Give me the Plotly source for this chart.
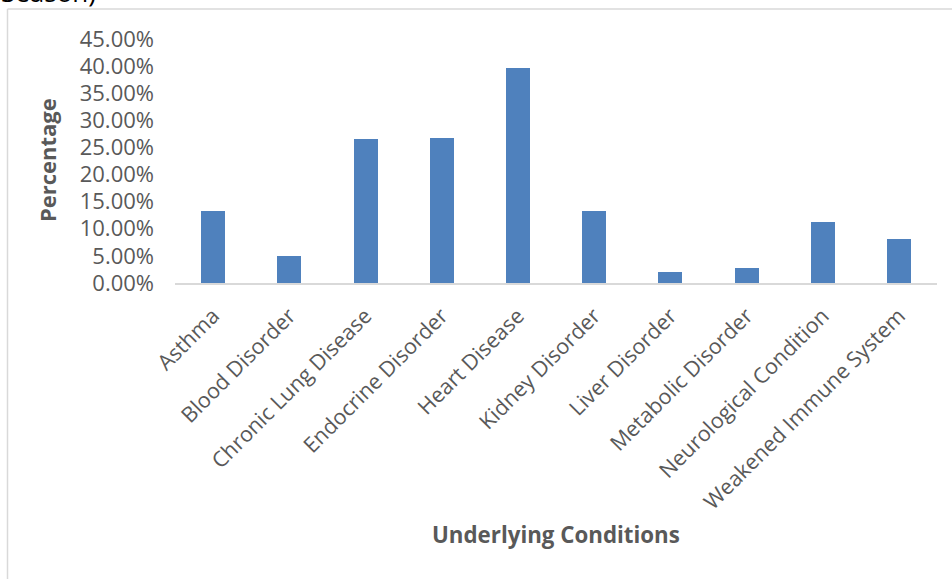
import plotly.graph_objects as go

# Share of cases by underlying condition
conditions = [
    "Asthma", "Blood Disorder", "Chronic Lung Disease", "Endocrine Disorder",
    "Heart Disease", "Kidney Disorder", "Liver Disorder", "Metabolic Disorder",
    "Neurological Condition", "Weakened Immune System",
]
percentages = [0.132, 0.049, 0.266, 0.267, 0.397, 0.133, 0.021, 0.027, 0.112, 0.082]
y_ticks = [0.0, 0.05, 0.10, 0.15, 0.20, 0.25, 0.30, 0.35, 0.40, 0.45]
y_tick_labels = ["0.00%", "5.00%", "10.00%", "15.00%", "20.00%", "25.00%",
                 "30.00%", "35.00%", "40.00%", "45.00%"]

FONT = "'Open Sans', sans-serif"
GREY = "#595959"

W, H = 952, 579
L, R, T, B = 175, 15, 39.4, 295.5
PW, PH = W - L - R, H - T - B


def px(x):
    return (x - L) / PW


def py(y):
    return (H - B - y) / PH


fig = go.Figure(
    go.Bar(
        x=conditions,
        y=percentages,
        marker=dict(color="#4f81bd", line=dict(width=0)),
        width=0.315,
    )
)

fig.update_layout(
    width=W,
    height=H,
    margin=dict(l=L, r=R, t=T, b=B, autoexpand=False),
    paper_bgcolor="white",
    plot_bgcolor="white",
    showlegend=False,
    font=dict(family=FONT, color=GREY),
    bargap=0,
)

fig.update_xaxes(
    tickangle=-45,
    tickfont=dict(size=21.5, color=GREY, family=FONT),
    showline=True,
    linecolor="#d9d9d9",
    linewidth=1.5,
    showgrid=False,
    ticks="",
    ticklabelstandoff=10,
    range=[-0.5, 9.5],
    fixedrange=True,
)

fig.update_yaxes(
    range=[0, 0.45],
    tickvals=y_ticks,
    ticktext=y_tick_labels,
    tickfont=dict(size=22, color=GREY, family=FONT),
    showgrid=False,
    zeroline=False,
    showline=False,
    ticks="",
    ticklabelstandoff=20,
    fixedrange=True,
)

annotations = [
    dict(text="<b>Percentage</b>", xref="paper", yref="paper", x=px(46.5), y=py(161),
         xanchor="center", yanchor="middle", textangle=-90, showarrow=False,
         font=dict(size=22, color=GREY, family=FONT)),
    dict(text="<b>Underlying Conditions</b>", xref="paper", yref="paper", x=px(556), y=py(535),
         xanchor="center", yanchor="middle", showarrow=False,
         font=dict(size=22.3, color=GREY, family=FONT)),
    dict(text="Season)", xref="paper", yref="paper", x=px(-1), y=py(12),
         xanchor="left", yanchor="bottom", showarrow=False,
         font=dict(size=26, color="black", family=FONT)),
]
fig.update_layout(annotations=annotations)

# Chart frame (top and left edges)
frame = dict(color="#d9d9d9", width=1.5)
fig.add_shape(type="line", xref="paper", yref="paper",
              x0=px(7.5), x1=px(980), y0=py(9.5), y1=py(9.5), line=frame)
fig.add_shape(type="line", xref="paper", yref="paper",
              x0=px(7.5), x1=px(7.5), y0=py(9.5), y1=py(620), line=frame)

fig.write_html("out.html")
